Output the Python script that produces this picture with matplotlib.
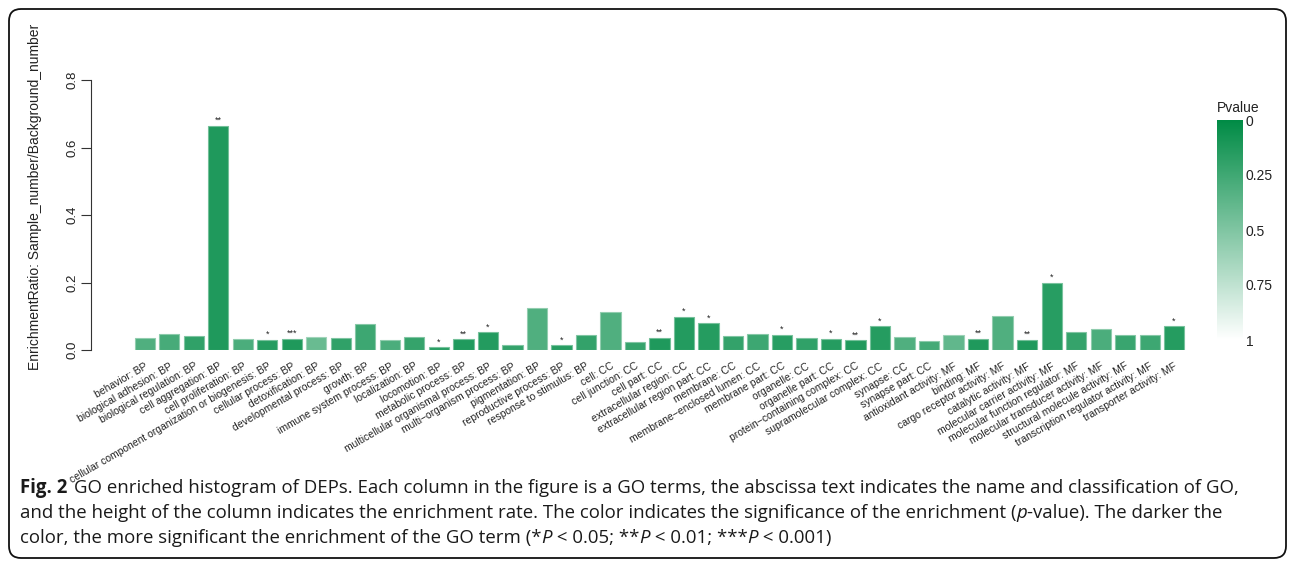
import matplotlib
matplotlib.use('Agg')
import matplotlib.pyplot as plt
import numpy as np
from matplotlib.colors import LinearSegmentedColormap, Normalize
from matplotlib.patches import FancyBboxPatch
from matplotlib.cm import ScalarMappable

terms = [
    "behavior: BP", "biological adhesion: BP", "biological regulation: BP",
    "cell aggregation: BP", "cell proliferation: BP",
    "cellular component organization or biogenesis: BP", "cellular process: BP",
    "detoxification: BP", "developmental process: BP", "growth: BP",
    "immune system process: BP", "localization: BP", "locomotion: BP",
    "metabolic process: BP", "multicellular organismal process: BP",
    "multi\u2212organism process: BP", "pigmentation: BP", "reproductive process: BP",
    "response to stimulus: BP",
    "cell: CC", "cell junction: CC", "cell part: CC", "extracellular region: CC",
    "extracellular region part: CC", "membrane: CC", "membrane\u2212enclosed lumen: CC",
    "membrane part: CC", "organelle: CC", "organelle part: CC",
    "protein\u2212containing complex: CC", "supramolecular complex: CC",
    "synapse: CC", "synapse part: CC",
    "antioxidant activity: MF", "binding: MF", "cargo receptor activity: MF",
    "catalytic activity: MF", "molecular carrier activity: MF",
    "molecular function regulator: MF", "molecular transducer activity: MF",
    "structural molecule activity: MF", "transcription regulator activity: MF",
    "transporter activity: MF",
]
ratios = [
    0.036, 0.047, 0.041, 0.665, 0.033, 0.030, 0.033, 0.038, 0.035, 0.076,
    0.029, 0.039, 0.009, 0.032, 0.052, 0.016, 0.124, 0.014, 0.044,
    0.112, 0.024, 0.036, 0.099, 0.080, 0.041, 0.048, 0.045, 0.037, 0.034,
    0.029, 0.070, 0.039, 0.028,
    0.044, 0.033, 0.100, 0.031, 0.199, 0.052, 0.062, 0.045, 0.044, 0.070,
]
pvalues = [
    0.22, 0.18, 0.08, 0.005, 0.20, 0.03, 0.0005, 0.33, 0.08, 0.14,
    0.20, 0.10, 0.04, 0.008, 0.02, 0.09, 0.22, 0.04, 0.09,
    0.22, 0.10, 0.006, 0.02, 0.03, 0.09, 0.14, 0.04, 0.08, 0.03,
    0.008, 0.03, 0.22, 0.17,
    0.30, 0.005, 0.22, 0.005, 0.04, 0.10, 0.20, 0.12, 0.14, 0.03,
]
stars = [
    "", "", "", "**", "", "*", "***", "", "", "",
    "", "", "*", "**", "*", "", "", "*", "",
    "", "", "**", "*", "*", "", "", "*", "", "*",
    "**", "*", "", "",
    "", "**", "", "**", "*", "", "", "", "", "*",
]
yticks = [0.0, 0.2, 0.4, 0.6, 0.8]
cbar_ticks = [0, 0.25, 0.5, 0.75, 1]
cbar_labels = ["0", "0.25", "0.5", "0.75", "1"]

W, H = 1295, 567
fig = plt.figure(figsize=(W / 100, H / 100), dpi=100)
plt.rcParams['font.family'] = ['Liberation Sans', 'DejaVu Sans']


def px(x0, y0, x1, y1):
    return [x0 / W, 1 - y1 / H, (x1 - x0) / W, (y1 - y0) / H]


cmap = LinearSegmentedColormap.from_list('pv', ['#008B45', '#FFFFFF'])
norm = Normalize(0, 1)

ax = fig.add_axes(px(91, 80, 1190, 350))
x = np.arange(len(terms))
cols = cmap(norm(np.array(pvalues)))
fill = [tuple(0.88 * np.array(c[:3]) + 0.12) for c in cols]
edge = [tuple(0.55 * np.array(c[:3]) + 0.45) for c in cols]
ax.bar(x, ratios, width=0.82, color=fill, edgecolor=edge, linewidth=0.8, zorder=2)
for xi, r, s in zip(x, ratios, stars):
    if s:
        ax.annotate(s, (xi, r), xytext=(0, 0.5), textcoords='offset points',
                    ha='center', va='bottom', fontsize=6.5, color='#222222')

ax.set_xlim(-2.2, 42.65)
ax.set_ylim(0, 0.8)
for sp in ['top', 'right', 'bottom']:
    ax.spines[sp].set_visible(False)
ax.spines['left'].set_bounds(0, 0.8)
ax.spines['left'].set_color('#333333')
ax.spines['left'].set_linewidth(0.8)
ax.set_yticks(yticks)
ax.set_yticklabels([f"{v:.1f}" for v in yticks], rotation=90, va='center',
                   fontsize=9.5, color='#222222')
ax.tick_params(axis='y', length=7, width=0.8, color='#333333', pad=2)
ax.set_xticks(x)
ax.set_xticklabels(terms, rotation=30, ha='right', rotation_mode='anchor',
                   fontsize=7.5, color='#222222')
ax.tick_params(axis='x', length=0, pad=8)

fig.text(35 / W, 1 - 197 / H, "EnrichmentRatio: Sample_number/Background_number",
         rotation=90, ha='center', va='center', fontsize=10, color='#222222')

# colorbar
cax = fig.add_axes(px(1217, 120, 1243, 340))
cb = fig.colorbar(ScalarMappable(norm=norm, cmap=cmap), cax=cax)
cb.outline.set_visible(False)
cax.invert_yaxis()
cb.set_ticks(cbar_ticks)
cb.set_ticklabels(cbar_labels)
cax.tick_params(length=0, labelsize=10, pad=2, colors='#222222')
fig.text(1217 / W, 1 - 108 / H, "Pvalue", ha='left', va='center',
         fontsize=10, color='#222222')

# border
fig.patches.append(FancyBboxPatch((0.09, 0.09), 12.77, 5.49,
                                  boxstyle="round,pad=0,rounding_size=0.12",
                                  transform=fig.dpi_scale_trans, fill=False,
                                  edgecolor='#111111', linewidth=1.3))

# caption
renderer = fig.canvas.get_renderer()
cap_font = ['Open Sans', 'DejaVu Sans']
line1 = [("Fig. 2", dict(fontweight='bold')),
         ("GO enriched histogram of DEPs. Each column in the figure is a GO terms, the abscissa text indicates the name and classification of GO,", dict(gap=True))]
line2 = [("and the height of the column indicates the enrichment rate. The color indicates the significance of the enrichment (", {}),
         ("p", dict(style='italic')), ("-value). The darker the", {})]
line3 = [("color, the more significant the enrichment of the GO term (*", {}),
         ("P", dict(style='italic')), (" < 0.05; **", {}),
         ("P", dict(style='italic')), (" < 0.01; ***", {}),
         ("P", dict(style='italic')), (" < 0.001)", {})]

probe = fig.text(0, 0, "Fig. 2 " + line1[1][0], fontsize=12, family=cap_font)
wprobe = probe.get_window_extent(renderer).width
probe.remove()
csize = 12 * 1242 / wprobe * 0.975
space_px = 0.34 * csize * 100 / 72


def draw_runs(x0, ybase, parts):
    xcur = x0
    for txt, kw in parts:
        kw = dict(kw)
        if kw.pop('gap', False):
            xcur += space_px
        t = fig.text(xcur / W, 1 - ybase / H, txt, fontsize=csize, va='baseline',
                     ha='left', family=cap_font, color='#1a1a1a', **kw)
        xcur += t.get_window_extent(renderer).width


draw_runs(20, 493, line1)
draw_runs(20, 518, line2)
draw_runs(20, 543, line3)

fig.savefig('out.png', dpi=100)
